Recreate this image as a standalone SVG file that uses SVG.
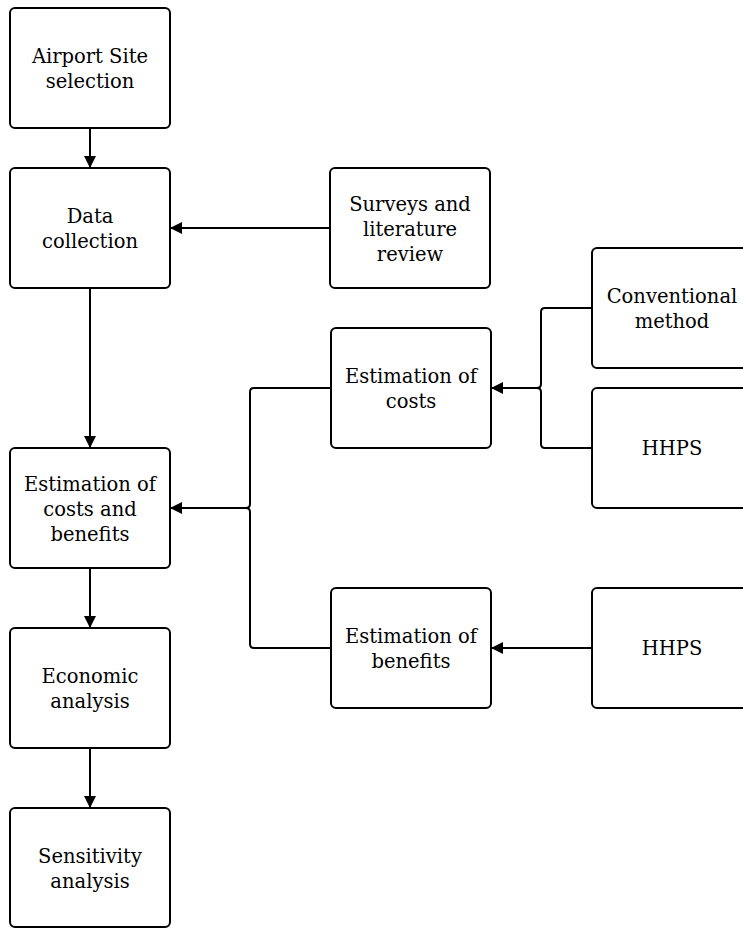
<svg xmlns="http://www.w3.org/2000/svg" width="743" height="928" viewBox="0 0 743 928">
  <defs>
    <style>
      .box { fill: #ffffff; stroke: #000000; stroke-width: 2; }
      .lbl { font-family: "DejaVu Serif", "Liberation Serif", serif; font-size: 19.5px; fill: #000000; text-anchor: middle; }
      .edge { fill: none; stroke: #000000; stroke-width: 2; }
    </style>
    <marker id="arrow" viewBox="0 0 12 12" refX="11" refY="6" markerWidth="12" markerHeight="12" markerUnits="userSpaceOnUse" orient="auto">
      <path d="M0,0 L12,6 L0,12 Z" fill="#000000"/>
    </marker>
  </defs>
  <rect width="743" height="928" fill="#ffffff"/>

  <g id="connectors">
    <path class="edge" d="M90,128 V167" marker-end="url(#arrow)"/>
    <path class="edge" d="M90,288 V447" marker-end="url(#arrow)"/>
    <path class="edge" d="M90,568 V627" marker-end="url(#arrow)"/>
    <path class="edge" d="M90,748 V807" marker-end="url(#arrow)"/>
    <path class="edge" d="M330,228 H171" marker-end="url(#arrow)"/>
    <!-- brace joining the two cost methods -->
    <path class="edge" d="M592,308 H545 Q541,308 541,312 V384 Q541,388 537,388 Q541,388 541,392 V444 Q541,448 545,448 H592"/>
    <path class="edge" d="M537,388 H492" marker-end="url(#arrow)"/>
    <!-- brace joining costs and benefits -->
    <path class="edge" d="M331,388 H254 Q250,388 250,392 V504 Q250,508 246,508 Q250,508 250,512 V644 Q250,648 254,648 H331"/>
    <path class="edge" d="M246,508 H171" marker-end="url(#arrow)"/>
    <path class="edge" d="M592,648 H492" marker-end="url(#arrow)"/>
  </g>

  <g id="site-selection">
    <rect class="box" x="10" y="8" width="160" height="120" rx="5"/>
    <text class="lbl" x="90" y="63">Airport Site</text>
    <text class="lbl" x="90" y="88">selection</text>
  </g>
  <g id="data-collection">
    <rect class="box" x="10" y="168" width="160" height="120" rx="5"/>
    <text class="lbl" x="90" y="223">Data</text>
    <text class="lbl" x="90" y="248">collection</text>
  </g>
  <g id="surveys">
    <rect class="box" x="330" y="168" width="160" height="120" rx="5"/>
    <text class="lbl" x="410" y="211">Surveys and</text>
    <text class="lbl" x="410" y="236">literature</text>
    <text class="lbl" x="410" y="261">review</text>
  </g>
  <g id="costs-benefits">
    <rect class="box" x="10" y="448" width="160" height="120" rx="5"/>
    <text class="lbl" x="90" y="491">Estimation of</text>
    <text class="lbl" x="90" y="516">costs and</text>
    <text class="lbl" x="90" y="541">benefits</text>
  </g>
  <g id="economic">
    <rect class="box" x="10" y="628" width="160" height="120" rx="5"/>
    <text class="lbl" x="90" y="683">Economic</text>
    <text class="lbl" x="90" y="708">analysis</text>
  </g>
  <g id="sensitivity">
    <rect class="box" x="10" y="808" width="160" height="119" rx="5"/>
    <text class="lbl" x="90" y="863">Sensitivity</text>
    <text class="lbl" x="90" y="888">analysis</text>
  </g>
  <g id="est-costs">
    <rect class="box" x="331" y="328" width="160" height="120" rx="5"/>
    <text class="lbl" x="411" y="383">Estimation of</text>
    <text class="lbl" x="411" y="408">costs</text>
  </g>
  <g id="est-benefits">
    <rect class="box" x="331" y="588" width="160" height="120" rx="5"/>
    <text class="lbl" x="411" y="643">Estimation of</text>
    <text class="lbl" x="411" y="668">benefits</text>
  </g>
  <g id="conventional">
    <rect class="box" x="592" y="248" width="160" height="120" rx="5"/>
    <text class="lbl" x="672" y="303">Conventional</text>
    <text class="lbl" x="672" y="328">method</text>
  </g>
  <g id="hhps-costs">
    <rect class="box" x="592" y="388" width="160" height="120" rx="5"/>
    <text class="lbl" x="672" y="455">HHPS</text>
  </g>
  <g id="hhps-benefits">
    <rect class="box" x="592" y="588" width="160" height="120" rx="5"/>
    <text class="lbl" x="672" y="655">HHPS</text>
  </g>
</svg>
